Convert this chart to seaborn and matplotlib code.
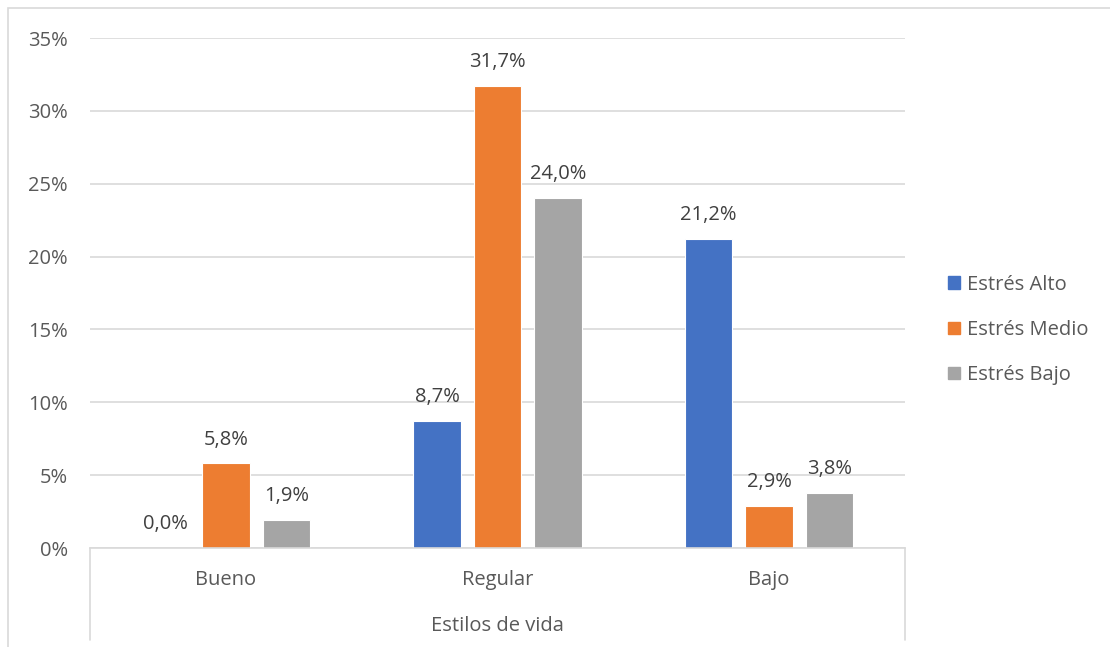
import matplotlib
matplotlib.use("Agg")
import matplotlib.pyplot as plt
import seaborn as sns
import pandas as pd
from matplotlib.lines import Line2D
from matplotlib.patches import Rectangle

# Data
categories = ["Bueno", "Regular", "Bajo"]
series = ["Estrés Alto", "Estrés Medio", "Estrés Bajo"]
estres_alto = [0.0, 8.7, 21.2]
estres_medio = [5.8, 31.7, 2.9]
estres_bajo = [1.9, 24.0, 3.8]
y_ticks = [0, 5, 10, 15, 20, 25, 30, 35]
x_title = "Estilos de vida"

colors = ["#4472C4", "#ED7D31", "#A5A5A5"]
text_color = "#595959"
grid_color = "#D9D9D9"
fs = 14.5

df = pd.DataFrame({
    "Estilo": categories * 3,
    "Serie": [s for s in series for _ in categories],
    "Valor": estres_alto + estres_medio + estres_bajo,
})

sns.set_theme(style="white")
plt.rcParams["font.family"] = ["Open Sans", "DejaVu Sans"]

W, H = 1110, 647
fig = plt.figure(figsize=(W / 100, H / 100), dpi=100)
ax = fig.add_axes([90 / W, (H - 548) / H, (905 - 90) / W, (548 - 38) / H])

sns.barplot(data=df, x="Estilo", y="Valor", hue="Serie", order=categories,
            hue_order=series, palette=colors, width=0.668, gap=0.215,
            linewidth=0.8, edgecolor="white", saturation=1, ax=ax, legend=False)

ax.set_xlim(-0.5, 2.5)
ax.set_ylim(0, 35)
ax.set_yticks(y_ticks)
ax.set_yticklabels([f"{t}%" for t in y_ticks], color=text_color, fontsize=fs)
ax.tick_params(axis="y", length=0, pad=16)
ax.tick_params(axis="x", length=0, pad=16, labelcolor=text_color, labelsize=fs)
ax.set_xlabel("")
ax.set_ylabel("")
ax.grid(axis="y", color=grid_color, linewidth=1.2)
ax.set_axisbelow(True)
for s in ["top", "right", "left"]:
    ax.spines[s].set_visible(False)
ax.spines["bottom"].set_color(grid_color)
ax.spines["bottom"].set_linewidth(1.2)

# Value labels
for cont in ax.containers:
    ax.bar_label(cont, labels=[f"{v:.1f}%".replace(".", ",") for v in cont.datavalues],
                 padding=10, color="#404040", fontsize=fs)

# Group box below the category axis
for xf in (90 / W, 905 / W):
    fig.add_artist(Line2D([xf, xf], [(H - 548) / H, (H - 640) / H],
                          color=grid_color, linewidth=1.2))
fig.text((90 + 905) / 2 / W, (H - 626) / H, x_title, ha="center", va="center",
         color=text_color, fontsize=fs)

# Chart border
fig.add_artist(Rectangle((8 / W, -0.01), 1.02 - 8 / W, (H - 8) / H + 0.01,
                         transform=fig.transFigure, fill=False,
                         edgecolor=grid_color, linewidth=1.2))

# Legend
handles = [Rectangle((0, 0), 1, 1, color=c) for c in colors]
fig.legend(handles, series, loc="center left", bbox_to_anchor=(930 / W, (H - 330) / H),
           frameon=False, fontsize=fs, labelcolor=text_color, handlelength=0.6,
           handleheight=0.6, handletextpad=0.35, labelspacing=1.25)

fig.savefig("out.png", dpi=100)
